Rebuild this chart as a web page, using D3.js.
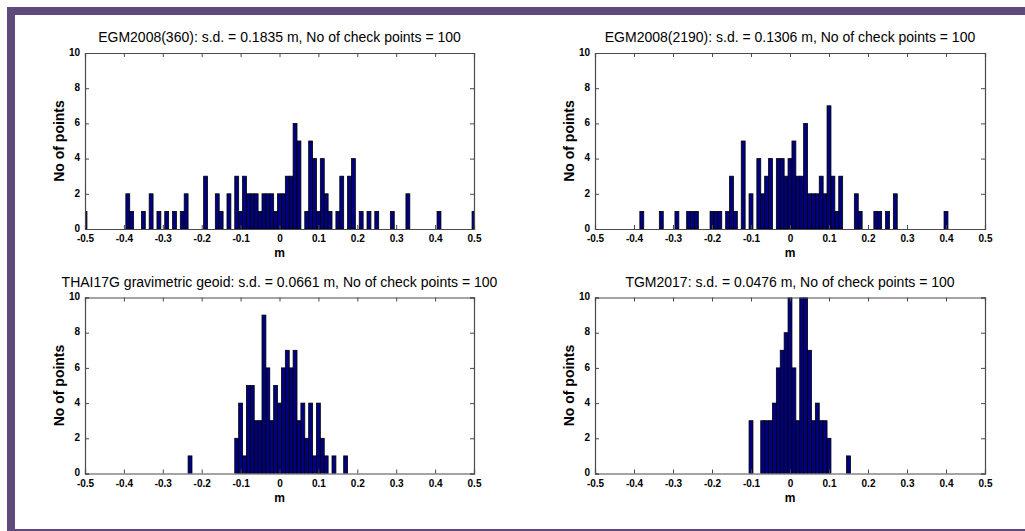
<!DOCTYPE html>
<html>
<head>
<meta charset="utf-8">
<script src="https://cdn.jsdelivr.net/npm/d3@7"></script>
<style>
  html, body { margin: 0; padding: 0; background: #ffffff; }
  svg { display: block; }
  text { font-family: "Liberation Sans", Arial, sans-serif; }
</style>
</head>
<body>
<svg id="chart" width="1025" height="531"></svg>
<script>
// ---------- data ----------
const titles = [
  "EGM2008(360): s.d. = 0.1835 m, No of check points = 100",
  "EGM2008(2190): s.d. = 0.1306 m, No of check points = 100",
  "THAI17G gravimetric geoid: s.d. = 0.0661 m, No of check points = 100",
  "TGM2017: s.d. = 0.0476 m, No of check points = 100"
];

const centersEGM360 = [-0.50,-0.39,-0.38,-0.35,-0.33,-0.31,-0.29,-0.27,-0.25,-0.24,-0.19,-0.16,-0.15,-0.13,-0.11,-0.10,-0.09,-0.08,-0.07,-0.06,-0.05,-0.04,-0.03,-0.02,-0.01,0.00,0.01,0.02,0.03,0.04,0.05,0.07,0.08,0.09,0.10,0.11,0.12,0.13,0.15,0.16,0.18,0.19,0.21,0.23,0.25,0.29,0.33,0.41,0.50];
const countsEGM360  = [1,2,1,1,2,1,1,1,1,2,3,2,1,2,3,1,3,2,2,2,1,2,2,2,1,2,2,3,3,6,5,1,5,4,1,4,2,1,1,3,3,4,1,1,1,1,2,1,1];

const centersEGM2190 = [-0.38,-0.33,-0.29,-0.26,-0.25,-0.24,-0.20,-0.19,-0.18,-0.16,-0.15,-0.14,-0.12,-0.10,-0.08,-0.07,-0.06,-0.05,-0.03,-0.02,-0.01,0.00,0.01,0.02,0.03,0.04,0.05,0.06,0.07,0.08,0.09,0.10,0.11,0.12,0.13,0.17,0.18,0.22,0.23,0.25,0.27,0.40];
const countsEGM2190  = [1,1,1,1,1,1,1,1,1,1,3,1,5,2,4,2,3,4,4,4,3,4,5,3,3,6,2,2,2,3,2,7,3,1,3,2,1,1,1,1,2,1];

const centersTHAI17G = [-0.23,-0.11,-0.10,-0.09,-0.08,-0.07,-0.06,-0.05,-0.04,-0.03,-0.02,-0.01,0.00,0.01,0.02,0.03,0.04,0.05,0.06,0.07,0.08,0.09,0.10,0.11,0.12,0.14,0.17];
const countsTHAI17G  = [1,2,4,1,5,5,3,3,9,6,3,5,4,6,7,6,7,3,4,2,4,1,4,2,1,1,1];

const centersTGM2017 = [-0.10,-0.07,-0.06,-0.05,-0.04,-0.03,-0.02,-0.01,0.00,0.01,0.02,0.03,0.04,0.05,0.06,0.07,0.08,0.09,0.10,0.15];
const countsTGM2017  = [3,3,3,3,4,6,7,8,10,6,3,11,10,7,3,4,3,3,2,1];

const binWidth = 0.01;
const xTicks = [-0.5,-0.4,-0.3,-0.2,-0.1,0,0.1,0.2,0.3,0.4,0.5];
const xTickLabels = ["-0.5","-0.4","-0.3","-0.2","-0.1","0","0.1","0.2","0.3","0.4","0.5"];
const yTicks = [0,2,4,6,8,10];
const xLabel = "m";
const yLabel = "No of points";

// ---------- layout ----------
const svg = d3.select("#chart");
const W = 1025, H = 531;
svg.append("rect").attr("width", W).attr("height", H).attr("fill", "#ffffff");

// purple frame
const frame = "#5e4b7c";
svg.append("rect").attr("x", 7).attr("y", 7).attr("width", W - 7).attr("height", 8).attr("fill", frame);
svg.append("rect").attr("x", 7).attr("y", 7).attr("width", 8).attr("height", H - 7).attr("fill", frame);
svg.append("rect").attr("x", 7).attr("y", 529).attr("width", W - 7).attr("height", 2).attr("fill", frame);

const panels = [
  {title: titles[0], centers: centersEGM360,  counts: countsEGM360,  x0: 85,  x1: 474, y0: 53,    y1: 229},
  {title: titles[1], centers: centersEGM2190, counts: countsEGM2190, x0: 595, x1: 985, y0: 53,    y1: 229},
  {title: titles[2], centers: centersTHAI17G, counts: countsTHAI17G, x0: 85,  x1: 474, y0: 297.5, y1: 473.5},
  {title: titles[3], centers: centersTGM2017, counts: countsTGM2017, x0: 595, x1: 985, y0: 297.5, y1: 473.5}
];

const axisColor = "#4a4a4a";

panels.forEach((p, i) => {
  const x = d3.scaleLinear().domain([-0.5, 0.5]).range([p.x0, p.x1]);
  const y = d3.scaleLinear().domain([0, 10]).range([p.y1, p.y0]);
  const g = svg.append("g");

  const clipId = "clip" + i;
  svg.append("clipPath").attr("id", clipId)
    .append("rect").attr("x", p.x0).attr("y", p.y0)
    .attr("width", p.x1 - p.x0).attr("height", p.y1 - p.y0);

  // bars
  const bins = p.centers.map((c, j) => ({c: c, n: p.counts[j]}));
  g.append("g").attr("clip-path", `url(#${clipId})`)
    .selectAll("rect").data(bins).enter().append("rect")
    .attr("x", d => x(d.c - binWidth / 2))
    .attr("width", d => x(d.c + binWidth / 2) - x(d.c - binWidth / 2))
    .attr("y", d => y(d.n))
    .attr("height", d => y(0) - y(d.n))
    .attr("fill", "#000080")
    .attr("stroke", "#000000")
    .attr("stroke-width", 0.8);

  // axes (inward ticks, boxed)
  const tickLen = 4;
  const xb = g.append("g").attr("transform", `translate(0,${p.y1})`)
    .call(d3.axisBottom(x).tickValues(xTicks).tickSize(-tickLen).tickPadding(3)
      .tickFormat((d, k) => xTickLabels[k]));
  const xt = g.append("g").attr("transform", `translate(0,${p.y0})`)
    .call(d3.axisTop(x).tickValues(xTicks).tickSize(-tickLen).tickFormat(""));
  const yl = g.append("g").attr("transform", `translate(${p.x0},0)`)
    .call(d3.axisLeft(y).tickValues(yTicks).tickSize(-tickLen).tickPadding(5));
  const yr = g.append("g").attr("transform", `translate(${p.x1},0)`)
    .call(d3.axisRight(y).tickValues(yTicks).tickSize(-tickLen).tickFormat(""));

  [xb, xt, yl, yr].forEach(a => {
    a.select(".domain").attr("stroke", axisColor).attr("stroke-width", 1.2);
    a.selectAll(".tick line").attr("stroke", axisColor).attr("stroke-width", 1);
    a.selectAll(".tick text")
      .attr("fill", "#000")
      .style("font-family", "'Liberation Sans', Arial, sans-serif")
      .style("font-size", "10px")
      .style("font-weight", "bold");
  });
  xb.selectAll(".tick text").attr("dy", "0.71em").attr("y", 6);
  yl.selectAll(".tick text").attr("dy", "0.22em");

  // title
  g.append("text")
    .attr("x", (p.x0 + p.x1) / 2).attr("y", p.y0 - 11)
    .attr("text-anchor", "middle")
    .style("font-size", "14px")
    .attr("fill", "#000")
    .text(p.title);

  // x label
  g.append("text")
    .attr("x", (p.x0 + p.x1) / 2).attr("y", p.y1 + 28)
    .attr("text-anchor", "middle")
    .style("font-size", "12px").style("font-weight", "bold")
    .text(xLabel);

  // y label
  g.append("text")
    .attr("transform", `translate(${p.x0 - 21},${(p.y0 + p.y1) / 2}) rotate(-90)`)
    .attr("text-anchor", "middle")
    .style("font-size", "14px").style("font-weight", "bold")
    .text(yLabel);
});
</script>
</body>
</html>
